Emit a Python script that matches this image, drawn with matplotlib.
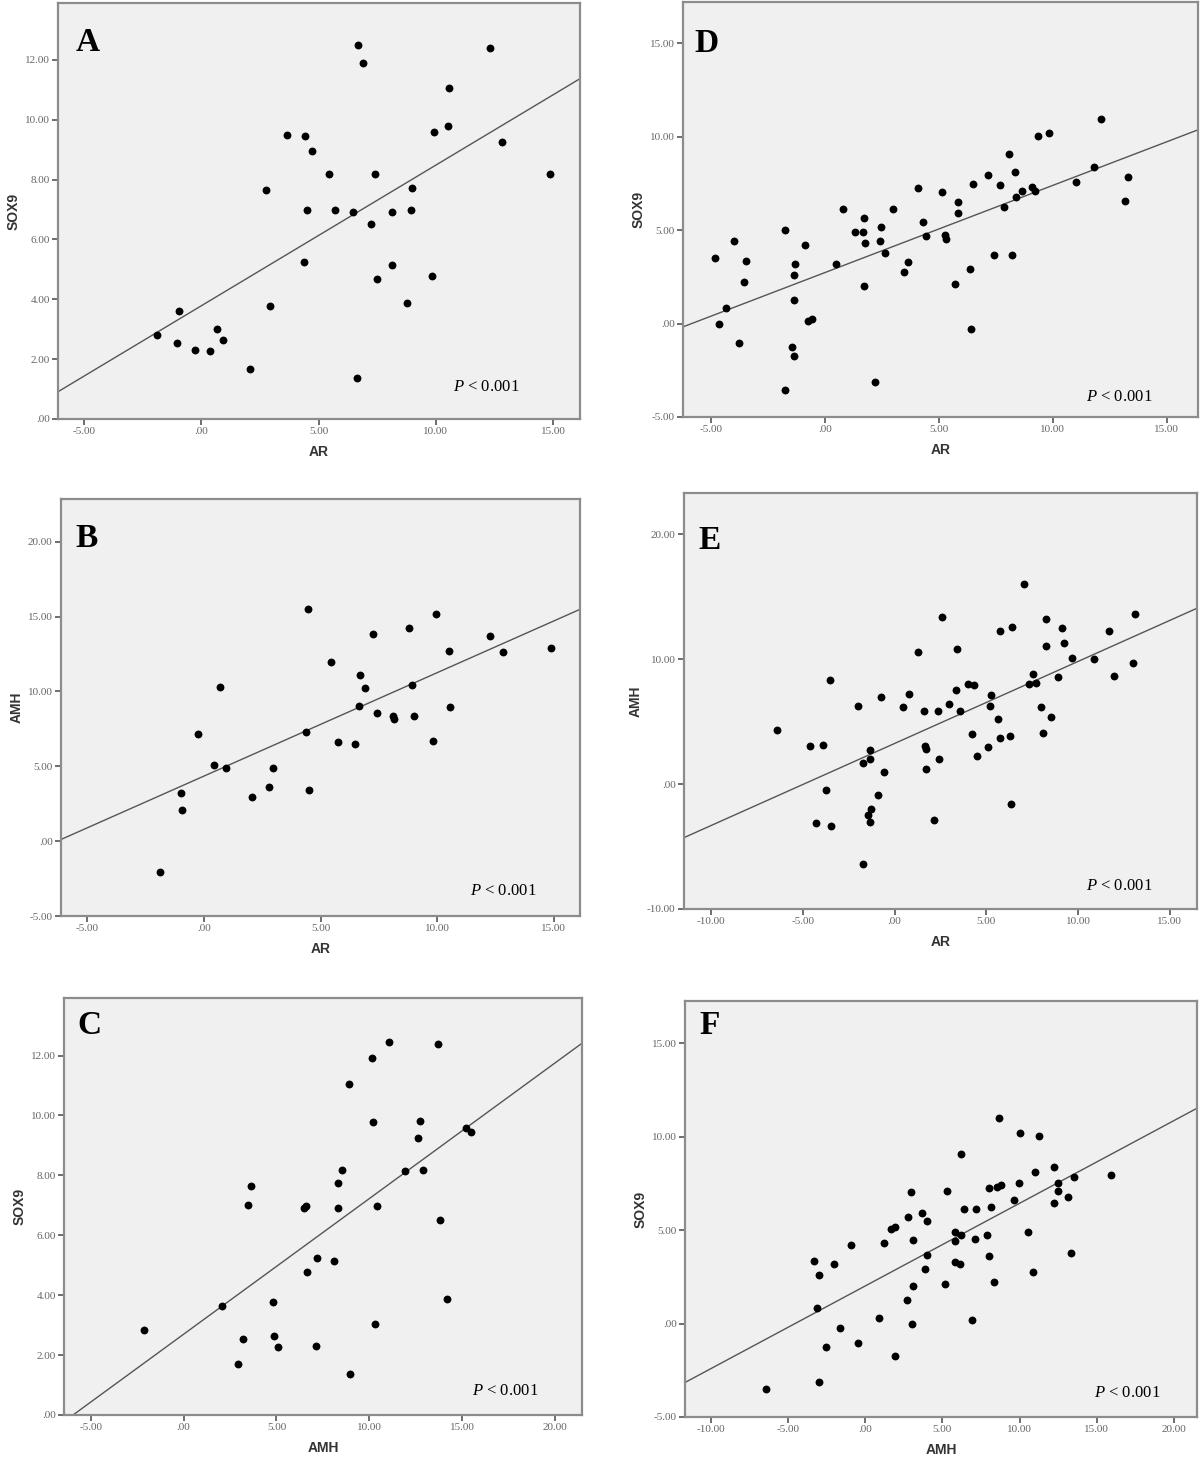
#!/usr/bin/env python3
"""Six SPSS-style scatter plots with fitted regression lines (panels A-F)."""

import matplotlib
matplotlib.use("Agg")
import matplotlib.pyplot as plt
import numpy as np

# Panel A: AR vs SOX9
a_ar = [-1.88, -0.95, -1.01, -0.25, 0.39, 0.67, 0.95, 2.08, 2.76, 2.94, 3.66, 4.44,
        4.72, 4.49, 4.36, 5.44, 5.72, 6.47, 6.67, 6.88, 6.62, 7.42, 7.24, 7.47,
        8.12, 8.15, 8.77, 8.92, 9.00, 9.82, 9.93, 10.51, 10.56, 12.29, 12.81, 14.85]
a_sox9 = [2.82, 3.62, 2.54, 2.31, 2.26, 3.02, 2.64, 1.68, 7.65, 3.78, 9.48, 9.46,
          8.95, 6.99, 5.24, 8.17, 6.99, 6.92, 12.48, 11.91, 1.38, 8.17, 6.51, 4.68,
          6.91, 5.15, 3.87, 6.97, 7.72, 4.79, 9.59, 9.80, 11.06, 12.41, 9.25, 8.18]

# Panel B: AR vs AMH
b_ar = [-1.86, -0.97, -0.94, -0.25, 0.43, 0.68, 0.96, 2.06, 2.79, 2.95, 4.39, 4.46,
        4.52, 5.45, 5.73, 6.47, 6.63, 6.70, 6.90, 7.24, 7.43, 8.12, 8.15, 8.78,
        8.93, 9.01, 9.82, 9.93, 10.51, 10.56, 12.26, 12.81, 14.87]
b_amh = [-2.05, 3.23, 2.11, 7.15, 5.12, 10.31, 4.90, 2.98, 3.65, 4.88, 7.26, 15.49,
         3.45, 11.95, 6.61, 6.46, 9.02, 11.09, 10.22, 13.85, 8.55, 8.35, 8.17, 14.23,
         10.42, 8.33, 6.66, 15.20, 12.73, 8.95, 13.71, 12.64, 12.89]

# Panel C: AMH vs SOX9
c_amh = [-2.11, 2.07, 2.94, 3.19, 3.44, 3.62, 4.82, 4.84, 5.09, 6.46, 6.60, 6.63,
         7.12, 7.20, 8.12, 8.30, 8.30, 8.55, 8.92, 8.96, 10.17, 10.21, 10.29, 10.39,
         11.08, 11.93, 12.61, 12.73, 12.90, 13.71, 13.83, 14.20, 15.20, 15.49]
c_sox9 = [2.83, 3.63, 1.69, 2.55, 7.00, 7.64, 3.78, 2.65, 2.27, 6.91, 6.99, 4.79,
          2.31, 5.25, 5.14, 7.73, 6.92, 8.19, 11.05, 1.38, 11.91, 9.77, 3.03, 6.97,
          12.46, 8.15, 9.23, 9.80, 8.19, 12.39, 6.51, 3.86, 9.59, 9.44]

# Panel D: AR vs SOX9
d_ar = [-4.82, -4.66, -4.34, -3.97, -3.76, -3.56, -3.46, -1.75, -1.76, -1.45, -1.34,
        -1.36, -1.34, -1.31, -0.86, -0.72, -0.55, 0.50, 0.81, 1.33, 1.66, 1.71, 1.78,
        1.70, 2.18, 2.45, 2.44, 2.62, 3.01, 3.48, 3.63, 4.10, 4.32, 4.42, 5.13, 5.26,
        5.33, 5.71, 5.83, 5.85, 6.39, 6.42, 6.49, 7.16, 7.41, 7.68, 7.85, 8.08, 8.22,
        8.34, 8.40, 8.64, 9.08, 9.24, 9.33, 9.82, 11.01, 11.83, 12.13, 13.18, 13.28]
d_sox9 = [3.53, -0.02, 0.82, 4.44, -1.03, 2.21, 3.33, 4.99, -3.53, -1.27, -1.76,
          1.25, 2.60, 3.16, 4.19, 0.12, 0.23, 3.17, 6.11, 4.88, 4.87, 5.67, 4.30,
          2.00, -3.14, 5.15, 4.40, 3.76, 6.13, 2.76, 3.28, 7.24, 5.44, 4.69, 7.02, 4.76,
          4.51, 2.10, 5.90, 6.49, 2.91, -0.27, 7.49, 7.93, 3.64, 7.42, 6.24, 9.09, 3.67,
          8.11, 6.77, 7.08, 7.31, 7.11, 10.02, 10.18, 7.56, 8.40, 10.96, 6.56, 7.83]

# Panel E: AR vs AMH
e_ar = [-6.39, -4.63, -4.30, -3.92, -3.73, -3.52, -3.44, -1.99, -1.74, -1.72, -1.43,
        -1.32, -1.32, -1.30, -1.32, -0.88, -0.73, -0.57, 0.46, 0.78, 1.30, 1.59, 1.68,
        1.70, 1.74, 2.14, 2.39, 2.41, 2.56, 2.96, 3.35, 3.42, 3.56, 4.03, 4.21, 4.32,
        4.49, 5.07, 5.18, 5.24, 5.64, 5.74, 5.77, 6.31, 6.33, 6.39, 7.04, 7.32, 7.57,
        7.71, 7.99, 8.09, 8.26, 8.24, 8.51, 8.93, 9.14, 9.22, 9.69, 10.86, 11.68,
        11.97, 12.98, 13.08]
e_amh = [4.36, 3.02, -3.13, 3.13, -0.45, 8.37, -3.34, 6.26, 1.68, -6.42, -2.51,
         2.75, 2.01, -2.01, -3.02, -0.91, 6.95, 0.94, 6.20, 7.25, 10.56, 5.83, 3.07,
         2.81, 1.23, -2.91, 5.88, 1.98, 13.37, 6.42, 7.51, 10.83, 5.83, 8.05, 3.98, 7.97,
         2.27, 2.94, 6.26, 7.17, 5.21, 3.69, 12.22, 3.88, -1.63, 12.54, 16.02, 8.05, 8.80,
         8.13, 6.20, 4.06, 13.18, 11.04, 5.35, 8.56, 12.51, 11.28, 10.08, 10.00, 12.25,
         8.66, 9.71, 13.58]

# Panel F: AMH vs SOX9
f_amh = [-6.46, -3.34, -3.12, -3.02, -2.97, -2.52, -2.05, -1.66, -0.94, -0.47, 0.89,
         1.19, 1.68, 1.96, 1.96, 2.72, 2.77, 2.95, 3.02, 3.07, 3.12, 3.66, 3.86, 3.99,
         4.01, 5.20, 5.30, 5.79, 5.84, 5.79, 6.16, 6.19, 6.21, 6.39, 6.93, 7.13, 7.20,
         7.92, 8.00, 8.02, 8.14, 8.32, 8.54, 8.64, 8.79, 9.65, 9.98, 10.02, 10.54, 10.84,
         11.01, 11.29, 12.23, 12.23, 12.50, 12.48, 13.12, 13.34, 13.51, 15.94]
f_sox9 = [-3.51, 3.37, 0.82, 2.62, -3.12, -1.25, 3.21, -0.25, 4.22, -1.02, 0.27,
          4.31, 5.03, 5.17, -1.75, 1.28, 5.69, 7.02, -0.02, 2.01, 4.46, 5.92, 2.92, 5.47,
          3.69, 2.12, 7.08, 4.90, 4.42, 3.30, 3.21, 9.09, 4.76, 6.11, 0.18, 4.53, 6.11,
          4.72, 7.24, 3.62, 6.24, 2.21, 7.29, 10.98, 7.40, 6.58, 7.54, 10.20, 4.92, 2.78,
          8.11, 10.04, 8.36, 6.47, 7.49, 7.09, 6.79, 3.76, 7.84, 7.93]

FIG_W, FIG_H = 1200, 1457


def tick_fmt(v, _pos=None):
    s = f"{v:.2f}"
    if s.startswith("0"):
        s = s[1:]
    elif s.startswith("-0"):
        s = "-" + s[2:]
    return s


def box(left, right, top, bottom):
    """Pixel box -> figure fraction rect."""
    return [left / FIG_W, 1 - bottom / FIG_H, (right - left) / FIG_W, (bottom - top) / FIG_H]


def scatter_panel(fig, rect, x, y, xlabel, ylabel, xlim, ylim, xticks, yticks,
                  letter, letter_pos, p_pos):
    ax = fig.add_axes(rect)
    ax.set_facecolor("#f0f0f0")
    for s in ax.spines.values():
        s.set_color("#8c8c8c")
        s.set_linewidth(1.6)

    ax.scatter(x, y, s=32, color="black", zorder=3, linewidths=0)

    slope, icpt = np.polyfit(x, y, 1)
    xs = np.array(xlim)
    ax.plot(xs, slope * xs + icpt, color="#555555", linewidth=1.0, zorder=2)

    ax.set_xlim(xlim)
    ax.set_ylim(ylim)
    ax.set_xticks(xticks)
    ax.set_yticks(yticks)
    ax.xaxis.set_major_formatter(plt.FuncFormatter(tick_fmt))
    ax.yaxis.set_major_formatter(plt.FuncFormatter(tick_fmt))
    ax.tick_params(direction="out", length=4, width=1.2, color="#555555",
                   labelsize=8, labelcolor="#666666", pad=2)
    for lab in ax.get_xticklabels() + ax.get_yticklabels():
        lab.set_family("Liberation Serif")

    ax.set_xlabel(xlabel, fontsize=10, fontweight="bold", color="#333333",
                  family="Liberation Sans", labelpad=6)
    ax.set_ylabel(ylabel, fontsize=10, fontweight="bold", color="#333333",
                  family="Liberation Sans", labelpad=3)

    ax.text(letter_pos[0], letter_pos[1], letter, transform=ax.transAxes,
            fontsize=24, fontweight="bold", family="Liberation Serif",
            ha="center", va="center")
    ax.text(p_pos[0], p_pos[1], r"$\mathit{P}$ < 0.001", transform=ax.transAxes,
            fontsize=12, family="Liberation Serif", ha="center", va="center")
    return ax


def main():
    plt.rcParams["mathtext.fontset"] = "custom"
    plt.rcParams["mathtext.it"] = "Liberation Serif:italic"
    plt.rcParams["mathtext.rm"] = "Liberation Serif"

    fig = plt.figure(figsize=(12, 14.57), dpi=100)
    fig.patch.set_facecolor("white")

    scatter_panel(fig, box(58, 580, 3, 419), a_ar, a_sox9, "AR", "SOX9",
                  (-6.1, 16.14), (0, 13.9), [-5, 0, 5, 10, 15], [0, 2, 4, 6, 8, 10, 12],
                  "A", (0.057, 0.905), (0.82, 0.077))
    scatter_panel(fig, box(61, 580, 499, 916), b_ar, b_amh, "AR", "AMH",
                  (-6.12, 16.12), (-5, 22.86), [-5, 0, 5, 10, 15], [-5, 0, 5, 10, 15, 20],
                  "B", (0.05, 0.906), (0.853, 0.06))
    scatter_panel(fig, box(64, 582, 998, 1415), c_amh, c_sox9, "AMH", "SOX9",
                  (-6.44, 21.45), (0, 13.92), [-5, 0, 5, 10, 15, 20], [0, 2, 4, 6, 8, 10, 12],
                  "C", (0.05, 0.935), (0.851, 0.058))
    scatter_panel(fig, box(683, 1198, 2, 417), d_ar, d_sox9, "AR", "SOX9",
                  (-6.22, 16.37), (-5, 17.2), [-5, 0, 5, 10, 15], [-5, 0, 5, 10, 15],
                  "D", (0.045, 0.90), (0.848, 0.048))
    scatter_panel(fig, box(684, 1197, 493, 909), e_ar, e_amh, "AR", "AMH",
                  (-11.47, 16.48), (-10, 23.3), [-10, -5, 0, 5, 10, 15], [-10, 0, 10, 20],
                  "E", (0.05, 0.887), (0.848, 0.055))
    scatter_panel(fig, box(685, 1197, 1001, 1417), f_amh, f_sox9, "AMH", "SOX9",
                  (-11.68, 21.5), (-5, 17.25), [-10, -5, 0, 5, 10, 15, 20], [-5, 0, 5, 10, 15],
                  "F", (0.049, 0.94), (0.863, 0.058))

    fig.savefig("out.png", dpi=100)
    plt.close(fig)


if __name__ == "__main__":
    main()
